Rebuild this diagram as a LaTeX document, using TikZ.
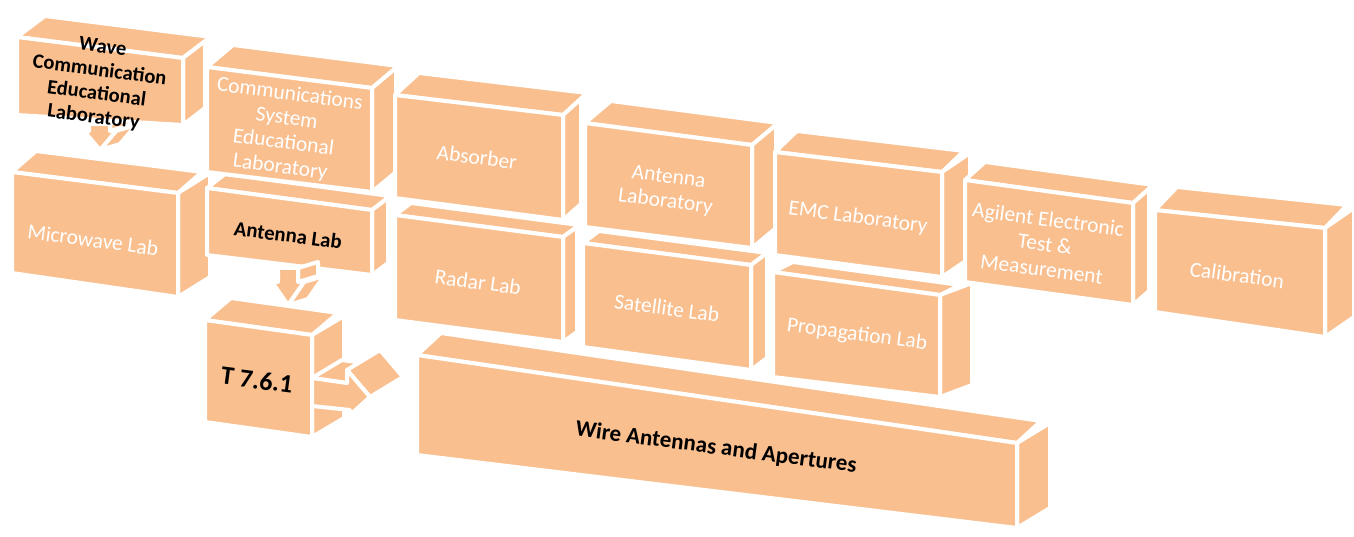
\documentclass[tikz,border=0pt]{standalone}
\usepackage{fontspec}
\setmainfont{Carlito}
\usetikzlibrary{calc}
\definecolor{boxorange}{HTML}{F9BF8F}
\tikzset{
  face/.style={fill=boxorange, draw=white, line width=4pt, line join=round},
  lighttxt/.style={text=white, align=center, rotate=-7.5, font=\fontsize{21.5}{24.5}\selectfont, inner sep=0pt},
  darktxt/.style={text=black, align=center, rotate=-7.5, font=\bfseries\fontsize{20.8}{24}\selectfont, inner sep=0pt},
}
% #1 x-left, #2 x-right, #3 y top-left, #4 y top-right, #5 y bottom-left, #6 y bottom-right,
% #7 depth of top face, #8 depth of side face
\newcommand\labbox[8]{%
  \path[face] (#1,#3) -- ($(#1,#3)+(#7)$) -- ($(#2,#4)+(#7)$) -- (#2,#4) -- cycle;
  \path[face] (#2,#4) -- ($(#2,#4)+(#8)$) -- ($(#2,#6)+(#8)$) -- (#2,#6) -- cycle;
  \path[face] (#1,#3) -- (#2,#4) -- (#2,#6) -- (#1,#5) -- cycle;
}
\begin{document}
\begin{tikzpicture}[x=1pt,y=-1pt]
\useasboundingbox (0,0) rectangle (1354,537);
\fill[white] (0,0) rectangle (1354,537);

% Microwave Lab
\labbox{12}{178}{172}{193}{273}{297}{24,-21}{32,-20}
% Wire Antennas and Apertures
\labbox{417}{1017}{355}{443}{455}{528}{24,-22}{33,-20}
% Antenna Lab
\labbox{207}{372}{188}{210}{255}{275}{18,-14}{16,-12}
% Communications System Educational Laboratory
\labbox{207}{372}{67}{88}{172}{192}{26,-22}{24,-20}

% arrow 1 (Wave -> Microwave)
\path[face] (110,124) -- (110,131) -- (130,125) -- (130,118) -- cycle;
\path[face] (116,131) -- (100,150) -- (120,144) -- (136,125) -- cycle;
\path[face] (89,124) -- (110,124) -- (110,131) -- (116,131) -- (100,150) -- (84,131) -- (89,131) -- cycle;

% Wave Communication Educational Laboratory
\labbox{17}{183}{37}{58}{115}{125}{28,-21}{22,-17}

% T 7.6.1
\labbox{205}{312}{320}{335}{422}{437}{26,-22}{32,-19}

% arrow 2 (Antenna Lab -> T 7.6.1)
\path[face] (298,268) -- (298,282) -- (318,276) -- (318,262) -- cycle;
\path[face] (304,282) -- (288,305) -- (308,299) -- (324,276) -- cycle;
\path[face] (278,268) -- (298,268) -- (298,282) -- (304,282) -- (288,305) -- (272,282) -- (278,282) -- cycle;

% arrow 3 (T 7.6.1 -> Wire Antennas and Apertures)
\path[face] (312,378) -- (342,360) -- (377,365) -- (347,383) -- cycle;
\path[face] (347,370) -- (380,350) -- (403,377) -- (370,397) -- cycle;
\path[face] (312,378) -- (347,383) -- (347,370) -- (370,397) -- (350,415) -- (350,410) -- (312,406) -- cycle;

% Radar Lab
\labbox{395}{563}{215}{237}{320}{342}{16,-12}{14,-10}
% Absorber
\labbox{395}{563}{95}{115}{198}{220}{24,-22}{18,-16}
% Satellite Lab
\labbox{583}{751}{243}{265}{347}{370}{16,-12}{16,-12}
% Antenna Laboratory
\labbox{585}{752}{123}{145}{227}{248}{26,-22}{24,-20}
% Propagation Lab
\labbox{773}{940}{272}{295}{377}{397}{20,-10}{32,-12}
% EMC Laboratory
\labbox{775}{942}{152}{172}{255}{277}{22,-21}{28,-19}
% Agilent
\labbox{965}{1133}{180}{203}{282}{305}{20,-18}{16,-14}
% Calibration
\labbox{1155}{1325}{210}{228}{312}{337}{22,-23}{29,-20}

% texts
\node[darktxt, font=\bfseries\fontsize{20.5}{23.5}\selectfont] (twave) at (98,83) {Wave\\Communication\\Educational\\Laboratory};
\node[lighttxt] (tcomm) at (285,131) {Communications\\System\\Educational\\Laboratory};
\node[lighttxt] (tmicro) at (93,240) {Microwave Lab};
\node[darktxt] (tantlab) at (288,235) {Antenna Lab};
\node[darktxt, font=\bfseries\fontsize{26}{30}\selectfont] (tt) at (257,380) {T 7.6.1};
\node[lighttxt] (tabs) at (477,157) {Absorber};
\node[lighttxt] (tradar) at (478,282) {Radar Lab};
\node[lighttxt] (tantlabor) at (667,190) {Antenna\\Laboratory};
\node[lighttxt] (tsat) at (667,308) {Satellite Lab};
\node[lighttxt] (temc) at (858,218) {EMC Laboratory};
\node[lighttxt] (tprop) at (857,335) {Propagation Lab};
\node[lighttxt, font=\fontsize{21.5}{25}\selectfont] (tagil) at (1045,244) {Agilent Electronic\\Test \&\\Measurement};
\node[lighttxt] (tcal) at (1237,275) {Calibration};
\node[darktxt, font=\bfseries\fontsize{23}{27}\selectfont] (twire) at (716,448) {Wire Antennas and Apertures};
\end{tikzpicture}
\end{document}
